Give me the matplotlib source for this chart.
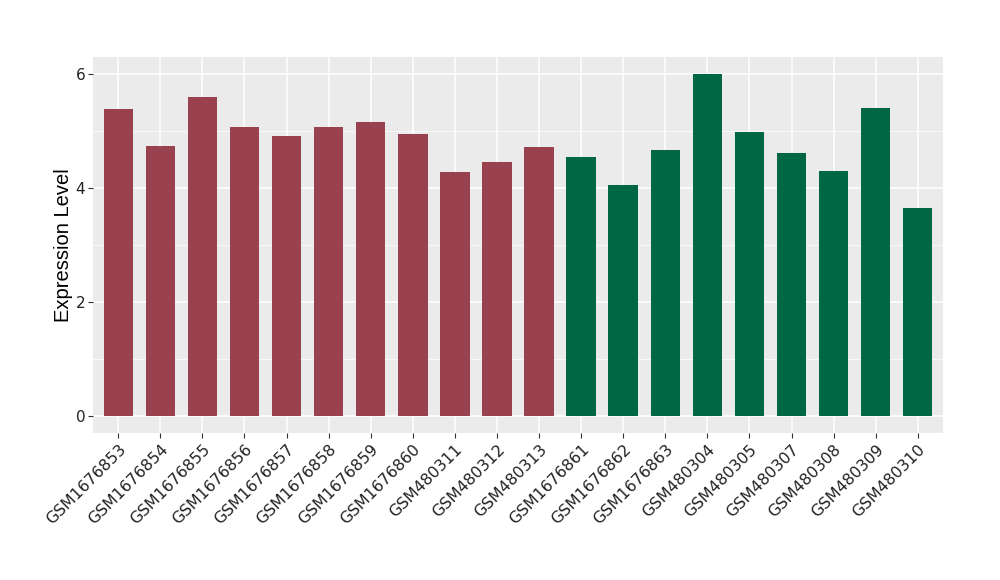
import matplotlib
matplotlib.use("Agg")
import matplotlib.pyplot as plt
import numpy as np

SAMPLES = ["GSM1676853", "GSM1676854", "GSM1676855", "GSM1676856", "GSM1676857",
           "GSM1676858", "GSM1676859", "GSM1676860", "GSM480311", "GSM480312",
           "GSM480313", "GSM1676861", "GSM1676862", "GSM1676863", "GSM480304",
           "GSM480305", "GSM480307", "GSM480308", "GSM480309", "GSM480310"]
VALUES = [5.39, 4.74, 5.60, 5.07, 4.91, 5.07, 5.16, 4.95, 4.28, 4.46,
          4.72, 4.54, 4.05, 4.67, 6.01, 4.98, 4.61, 4.30, 5.40, 3.65]
GROUP = [0] * 11 + [1] * 9
COLORS = ["#9A4150", "#006745"]

fig = plt.figure(figsize=(10, 5.8), dpi=100)
ax = fig.add_axes([0.093, 0.2534, 0.85, 0.6483])
ax.set_facecolor("#EBEBEB")

x = np.arange(len(SAMPLES))
ax.bar(x, VALUES, width=0.7, color=[COLORS[g] for g in GROUP], zorder=3)

ax.set_xlim(-0.6, len(SAMPLES) - 0.4)
ax.set_ylim(-0.3, 6.3)
ax.set_yticks([0, 2, 4, 6])
ax.set_yticks([1, 3, 5], minor=True)
ax.set_xticks(x)
ax.set_xticklabels(SAMPLES, rotation=45, ha="right", va="top",
                   rotation_mode="anchor", fontsize=11.3, color="#222222")
ax.tick_params(axis="y", which="major", labelsize=11, labelcolor="#222222",
               length=3.5, color="#333333", width=0.8, pad=2)
ax.tick_params(axis="y", which="minor", length=0)
ax.tick_params(axis="x", length=3.5, color="#333333", width=0.8, pad=3)
ax.grid(which="major", color="white", lw=1.1, zorder=0)
ax.grid(which="minor", axis="y", color="white", lw=0.5, zorder=0)
for s in ax.spines.values():
    s.set_visible(False)
ax.set_ylabel("Expression Level", fontsize=14.5, family="Liberation Sans", labelpad=2)

fig.savefig("out.png", dpi=100)
